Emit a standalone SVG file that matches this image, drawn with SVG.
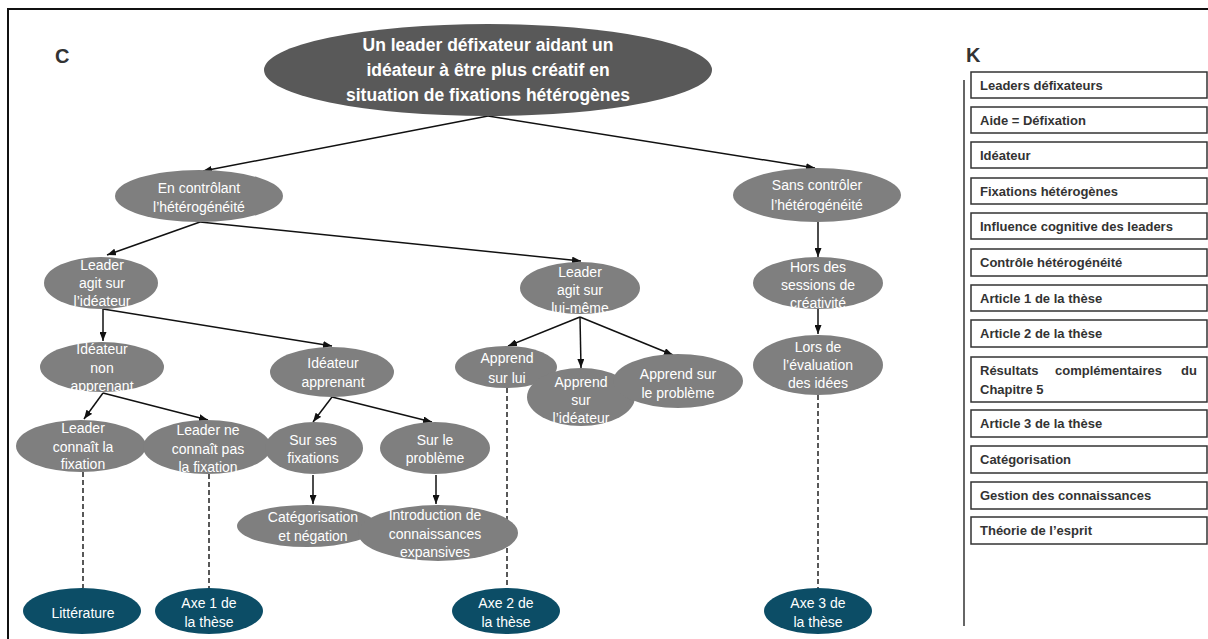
<svg xmlns="http://www.w3.org/2000/svg" width="1208" height="639" viewBox="0 0 1208 639">
<defs>
<marker id="ah" markerWidth="9" markerHeight="7" refX="9" refY="3.5" orient="auto" markerUnits="userSpaceOnUse"><path d="M0,0 L9,3.5 L0,7 z" fill="#111"/></marker>
<style>
.top{fill:#595959}
.nd{fill:#7f7f7f}
.ax{fill:#0c4d66}
.tt{font-family:"Liberation Sans",Arial,sans-serif;font-weight:bold;font-size:17.5px;fill:#fff;text-anchor:middle}
.t{font-family:"Liberation Sans",Arial,sans-serif;font-size:14px;fill:#fff;text-anchor:middle}
.lg{font-family:"Liberation Sans",Arial,sans-serif;font-weight:bold;font-size:13px;fill:#333}
.lab{font-family:"Liberation Sans",Arial,sans-serif;font-weight:bold;font-size:20px;fill:#333}
.bx{fill:#fff;stroke:#333;stroke-width:1.5}
.ar{stroke:#111;stroke-width:1.5;fill:none;marker-end:url(#ah)}
.da{stroke:#222;stroke-width:1.5;fill:none;stroke-dasharray:5 3}
</style>
</defs>
<rect width="1208" height="639" fill="#fff"/>
<path d="M8,640 V9 H1210" fill="none" stroke="#111" stroke-width="2"/>
<text class="lab" x="55" y="63">C</text>
<text class="lab" x="966" y="62">K</text>

<g id="connectors">
<line class="ar" x1="488" y1="116" x2="203" y2="171"/>
<line class="ar" x1="488" y1="116" x2="815" y2="168"/>
<line class="ar" x1="200" y1="222" x2="107" y2="255"/>
<line class="ar" x1="200" y1="222" x2="581" y2="261"/>
<line class="ar" x1="103" y1="309" x2="103" y2="341"/>
<line class="ar" x1="103" y1="309" x2="332" y2="346"/>
<line class="ar" x1="103" y1="393" x2="84" y2="419"/>
<line class="ar" x1="103" y1="393" x2="208" y2="420"/>
<line class="ar" x1="332" y1="397" x2="313" y2="422"/>
<line class="ar" x1="332" y1="397" x2="432" y2="422"/>
<line class="ar" x1="313" y1="475" x2="313" y2="504"/>
<line class="ar" x1="436" y1="475" x2="436" y2="504"/>
<line class="ar" x1="580" y1="317" x2="508" y2="346"/>
<line class="ar" x1="580" y1="317" x2="581" y2="368"/>
<line class="ar" x1="580" y1="317" x2="673" y2="355"/>
<line class="ar" x1="818" y1="222" x2="818" y2="257"/>
<line class="ar" x1="818" y1="309" x2="818" y2="334"/>
<line class="da" x1="83" y1="472" x2="83" y2="588"/>
<line class="da" x1="209" y1="474" x2="209" y2="588"/>
<line class="da" x1="507" y1="388" x2="507" y2="588"/>
<line class="da" x1="818" y1="395" x2="818" y2="588"/>
</g>

<g id="n_top"><ellipse class="top" cx="488" cy="70" rx="224" ry="46"/>
<text class="tt" x="488" y="51">Un leader défixateur aidant un</text>
<text class="tt" x="488" y="76">idéateur à être plus créatif en</text>
<text class="tt" x="488" y="101">situation de fixations hétérogènes</text></g>

<g id="n_ctrl"><ellipse class="nd" cx="199" cy="196" rx="84" ry="26"/>
<text class="t" x="199" y="193">En contrôlant</text><text class="t" x="199" y="212">l’hétérogénéité</text></g>

<g id="n_sans"><ellipse class="nd" cx="817" cy="195" rx="84" ry="27"/>
<text class="t" x="817" y="190">Sans contrôler</text><text class="t" x="817" y="210">l’hétérogénéité</text></g>

<g id="n_agit_ideat"><ellipse class="nd" cx="101" cy="283" rx="57" ry="26"/>
<text class="t" x="102" y="270">Leader</text><text class="t" x="102" y="288">agit sur</text><text class="t" x="102" y="306">l’idéateur</text></g>

<g id="n_agit_lui"><ellipse class="nd" cx="580" cy="288" rx="60" ry="26"/>
<text class="t" x="580" y="277">Leader</text><text class="t" x="580" y="295">agit sur</text><text class="t" x="580" y="313">lui-même</text></g>

<g id="n_hors"><ellipse class="nd" cx="818" cy="283" rx="65" ry="26"/>
<text class="t" x="818" y="272">Hors des</text><text class="t" x="818" y="290">sessions de</text><text class="t" x="818" y="308">créativité</text></g>

<g id="n_non_app"><ellipse class="nd" cx="102" cy="367" rx="62" ry="25"/>
<text class="t" x="102" y="354">Idéateur</text><text class="t" x="102" y="373">non</text><text class="t" x="102" y="391">apprenant</text></g>

<g id="n_app"><ellipse class="nd" cx="332" cy="372" rx="62" ry="25"/>
<text class="t" x="333" y="368">Idéateur</text><text class="t" x="333" y="387">apprenant</text></g>

<g id="n_lui"><ellipse class="nd" cx="506" cy="367" rx="51" ry="21"/>
<text class="t" x="507" y="363">Apprend</text><text class="t" x="507" y="383">sur lui</text></g>

<g id="n_sur_ideat"><ellipse class="nd" cx="581" cy="397" rx="54" ry="29"/>
<text class="t" x="581" y="387">Apprend</text><text class="t" x="581" y="405">sur</text><text class="t" x="581" y="423">l’idéateur</text></g>

<g id="n_sur_prob"><ellipse class="nd" cx="678" cy="381" rx="65" ry="27"/>
<text class="t" x="678" y="379">Apprend sur</text><text class="t" x="678" y="398">le problème</text></g>

<g id="n_lors"><ellipse class="nd" cx="818" cy="365" rx="65" ry="30"/>
<text class="t" x="818" y="352">Lors de</text><text class="t" x="818" y="370">l’évaluation</text><text class="t" x="818" y="388">des idées</text></g>

<g id="n_connait"><ellipse class="nd" cx="81" cy="446" rx="65" ry="26"/>
<text class="t" x="83" y="433">Leader</text><text class="t" x="83" y="452">connaît la</text><text class="t" x="83" y="469">fixation</text></g>

<g id="n_neconnait"><ellipse class="nd" cx="207" cy="447" rx="64" ry="27"/>
<text class="t" x="208" y="435">Leader ne</text><text class="t" x="208" y="454">connaît pas</text><text class="t" x="208" y="472">la fixation</text></g>

<g id="n_fix"><ellipse class="nd" cx="314" cy="448" rx="49" ry="26"/>
<text class="t" x="313" y="445">Sur ses</text><text class="t" x="313" y="463">fixations</text></g>

<g id="n_prob"><ellipse class="nd" cx="435" cy="448" rx="55" ry="26"/>
<text class="t" x="435" y="445">Sur le</text><text class="t" x="435" y="463">problème</text></g>

<g id="n_categ"><ellipse class="nd" cx="307" cy="526" rx="70" ry="21"/>
<text class="t" x="313" y="522">Catégorisation</text><text class="t" x="313" y="541">et négation</text></g>

<g id="n_intro"><ellipse class="nd" cx="438" cy="533" rx="80" ry="28"/>
<text class="t" x="435" y="520">Introduction de</text><text class="t" x="435" y="539">connaissances</text><text class="t" x="435" y="557">expansives</text></g>

<g id="n_litt"><ellipse class="ax" cx="82" cy="611" rx="59" ry="23"/>
<text class="t" x="83" y="618">Littérature</text></g>

<g id="n_axe1"><ellipse class="ax" cx="209" cy="611" rx="54" ry="23"/>
<text class="t" x="209" y="608">Axe 1 de</text><text class="t" x="209" y="627">la thèse</text></g>

<g id="n_axe2"><ellipse class="ax" cx="506" cy="611" rx="54" ry="23"/>
<text class="t" x="506" y="608">Axe 2 de</text><text class="t" x="506" y="627">la thèse</text></g>

<g id="n_axe3"><ellipse class="ax" cx="818" cy="611" rx="54" ry="23"/>
<text class="t" x="818" y="608">Axe 3 de</text><text class="t" x="818" y="627">la thèse</text></g>

<g id="legend">
<line x1="964" y1="80" x2="964" y2="626" stroke="#333" stroke-width="1.5"/>
<rect class="bx" x="971" y="72" width="236" height="26"/><text class="lg" x="980" y="89.5">Leaders défixateurs</text>
<rect class="bx" x="971" y="107" width="236" height="26"/><text class="lg" x="980" y="124.5">Aide = Défixation</text>
<rect class="bx" x="971" y="142" width="236" height="26"/><text class="lg" x="980" y="159.5">Idéateur</text>
<rect class="bx" x="971" y="178" width="236" height="26"/><text class="lg" x="980" y="195.5">Fixations hétérogènes</text>
<rect class="bx" x="971" y="213" width="236" height="26"/><text class="lg" x="980" y="230.5">Influence cognitive des leaders</text>
<rect class="bx" x="971" y="249" width="236" height="27"/><text class="lg" x="980" y="267">Contrôle hétérogénéité</text>
<rect class="bx" x="971" y="285" width="236" height="26"/><text class="lg" x="980" y="302.5">Article 1 de la thèse</text>
<rect class="bx" x="971" y="320" width="236" height="27"/><text class="lg" x="980" y="338">Article 2 de la thèse</text>
<rect class="bx" x="971" y="357" width="236" height="45"/><text class="lg" y="375"><tspan x="980">Résultats</tspan><tspan x="1055">complémentaires</tspan><tspan x="1181">du</tspan></text><text class="lg" x="980" y="394">Chapitre 5</text>
<rect class="bx" x="971" y="410" width="236" height="27"/><text class="lg" x="980" y="428">Article 3 de la thèse</text>
<rect class="bx" x="971" y="446" width="236" height="27"/><text class="lg" x="980" y="464">Catégorisation</text>
<rect class="bx" x="971" y="482" width="236" height="27"/><text class="lg" x="980" y="500">Gestion des connaissances</text>
<rect class="bx" x="971" y="517" width="236" height="27"/><text class="lg" x="980" y="535">Théorie de l’esprit</text>
</g>
</svg>
